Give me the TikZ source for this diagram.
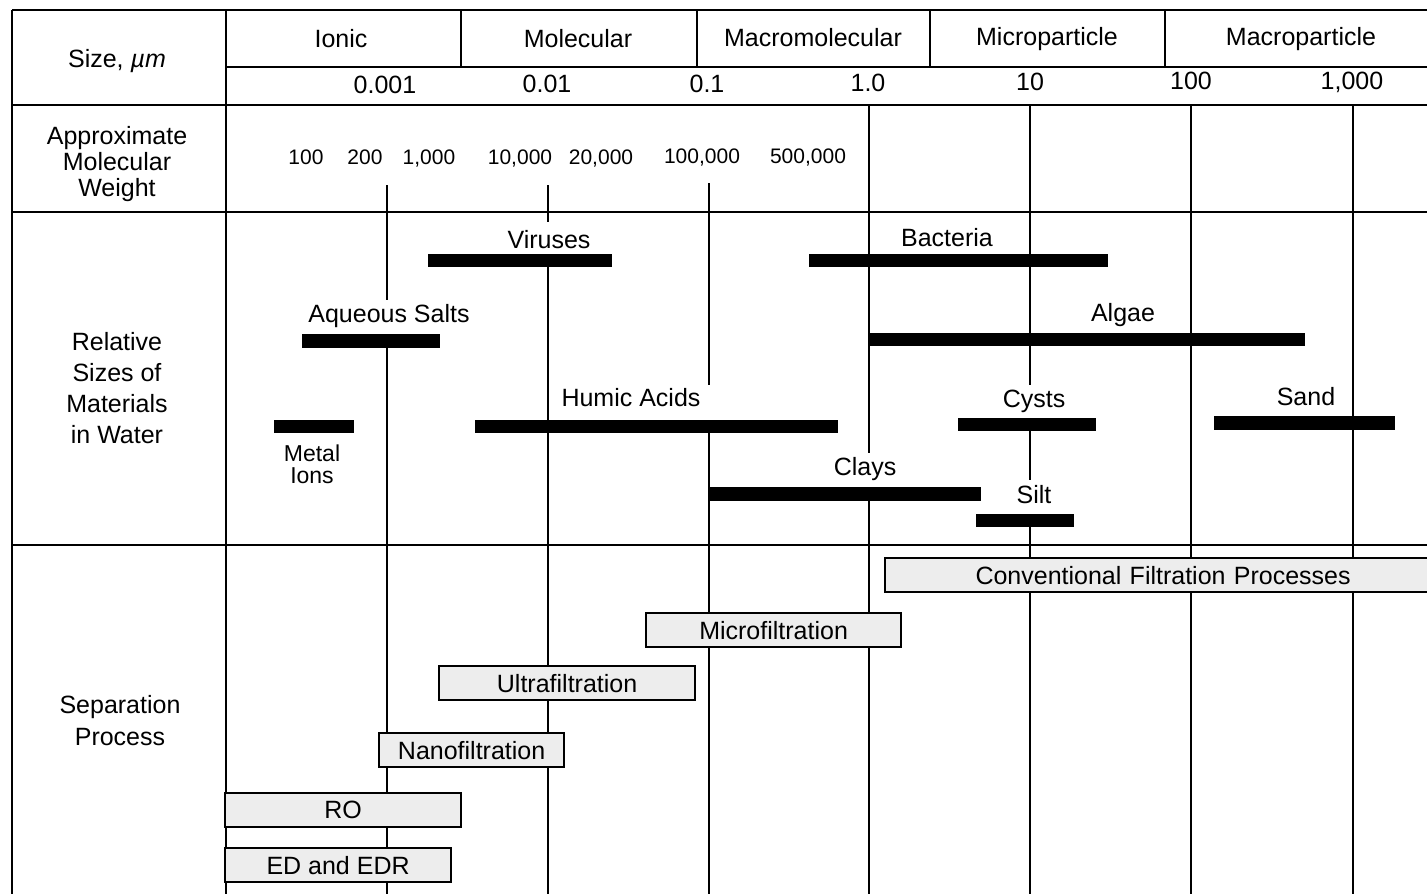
\documentclass[tikz,border=0pt]{standalone}
\usepackage{fontspec}
\setmainfont{Liberation Sans}
\definecolor{boxgray}{HTML}{EDEDED}
\begin{document}
\begin{tikzpicture}[x=1pt,y=-1pt,
  frame/.style={line width=2.2pt},
  gridline/.style={line width=2pt},
  txt/.style={font=\fontsize{25}{26}\selectfont, inner sep=0pt, anchor=base},
  small/.style={font=\fontsize{21}{22}\selectfont, inner sep=0pt, anchor=base},
  tight/.style={font=\fontsize{23}{24}\selectfont, inner sep=0pt, anchor=base},
  proc/.style={draw, line width=2.2pt, fill=boxgray, inner sep=0pt, anchor=north west,
     font=\fontsize{25}{26}\selectfont},
  bar/.style={fill=black}]
\useasboundingbox (0,0) rectangle (1427,894);
\clip (0,0) rectangle (1427,894);
% ---- table frame
\draw[frame] (12,10) -- (1440,10);
\draw[frame] (226,67) -- (1440,67);
\draw[frame] (12,105) -- (1440,105);
\draw[frame] (12,212) -- (1440,212);
\draw[frame] (12,545) -- (1440,545);
\draw[frame] (12,10) -- (12,900);
\draw[frame] (226,10) -- (226,900);
\foreach \x in {461,697,930,1165} \draw[frame] (\x,10) -- (\x,67);
% ---- scale lines (interrupted by labels)
\draw[gridline] (387,185) -- (387,300) (387,348) -- (387,900);
\draw[gridline] (548,185) -- (548,222) (548,267) -- (548,900);
\draw[gridline] (709,183) -- (709,385) (709,433) -- (709,900);
\draw[gridline] (869,105) -- (869,453) (869,501) -- (869,900);
\draw[gridline] (1030,105) -- (1030,385) (1030,431) -- (1030,480) (1030,527) -- (1030,900);
\draw[gridline] (1191,105) -- (1191,900);
\draw[gridline] (1353,105) -- (1353,900);
% ---- left column
\node[txt] (hsize) at (117,67) {Size, \textit{µm}};
\node[txt] (hmw1) at (117,144) {Approximate};
\node[txt] (hmw2) at (117,170) {Molecular};
\node[txt] (hmw3) at (117,196) {Weight};
\node[txt] (hrel1) at (117,350) {Relative};
\node[txt] (hrel2) at (117,381) {Sizes of};
\node[txt] (hrel3) at (117,412) {Materials};
\node[txt] (hrel4) at (117,443) {in Water};
\node[txt] (hsep1) at (120,713) {Separation};
\node[txt] (hsep2) at (120,745) {Process};
% ---- categories
\node[txt] (cion) at (341,47) {Ionic};
\node[txt] (cmol) at (578,47) {Molecular};
\node[txt] (cmac) at (813,46) {Macromolecular};
\node[txt] (cmic) at (1047,45) {Microparticle};
\node[txt] (cmap) at (1301,45) {Macroparticle};
% ---- size scale
\node[txt] (s1) at (385,93) {0.001};
\node[txt] (s2) at (547,92) {0.01};
\node[txt] (s3) at (707,92) {0.1};
\node[txt] (s4) at (868,91) {1.0};
\node[txt] (s5) at (1030,90) {10};
\node[txt] (s6) at (1191,89) {100};
\node[txt] (s7) at (1352,89) {1,000};
% ---- molecular weights
\node[small] (m1) at (306,164) {100};
\node[small] (m2) at (365,164) {200};
\node[small] (m3) at (429,164) {1,000};
\node[small] (m4) at (520,164) {10,000};
\node[small] (m5) at (601,164) {20,000};
\node[small] (m6) at (702,163) {100,000};
\node[small] (m7) at (808,163) {500,000};
% ---- material bars
\fill[bar] (428,254) rectangle (612,267);
\fill[bar] (809,254) rectangle (1108,267);
\fill[bar] (302,334) rectangle (440,348);
\fill[bar] (870,333) rectangle (1305,346);
\fill[bar] (274,420) rectangle (354,433);
\fill[bar] (475,420) rectangle (838,433);
\fill[bar] (958,418) rectangle (1096,431);
\fill[bar] (1214,416) rectangle (1395,430);
\fill[bar] (710,487) rectangle (981,501);
\fill[bar] (976,514) rectangle (1074,527);
\node[txt] (viruses) at (549,248) {Viruses};
\node[txt] (bacteria) at (947,246) {Bacteria};
\node[txt] (salts) at (389,322) {Aqueous Salts};
\node[txt] (algae) at (1123,321) {Algae};
\node[txt] (humic) at (631,406) {Humic Acids};
\node[txt] (cysts) at (1034,407) {Cysts};
\node[txt] (sand) at (1306,405) {Sand};
\node[txt] (clays) at (865,475) {Clays};
\node[txt] (silt) at (1034,503) {Silt};
\node[tight] (metal) at (312,461) {Metal};
\node[tight] (ions) at (312,483) {Ions};
% ---- separation processes
\node[proc, minimum width=556pt, minimum height=34pt, text width=540pt, align=center] (conv) at (884,557) {Conventional Filtration Processes};
\node[proc, minimum width=255pt, minimum height=34pt] (micro) at (645,612) {Microfiltration};
\node[proc, minimum width=256pt, minimum height=34pt] (ultra) at (438,665) {Ultrafiltration};
\node[proc, minimum width=185pt, minimum height=34pt] (nano) at (378,732) {Nanofiltration};
\node[proc, minimum width=236pt, minimum height=34pt] (ro) at (224,792) {RO};
\node[proc, minimum width=226pt, minimum height=34pt] (ed) at (224,847) {ED and EDR};
\end{tikzpicture}
\end{document}
